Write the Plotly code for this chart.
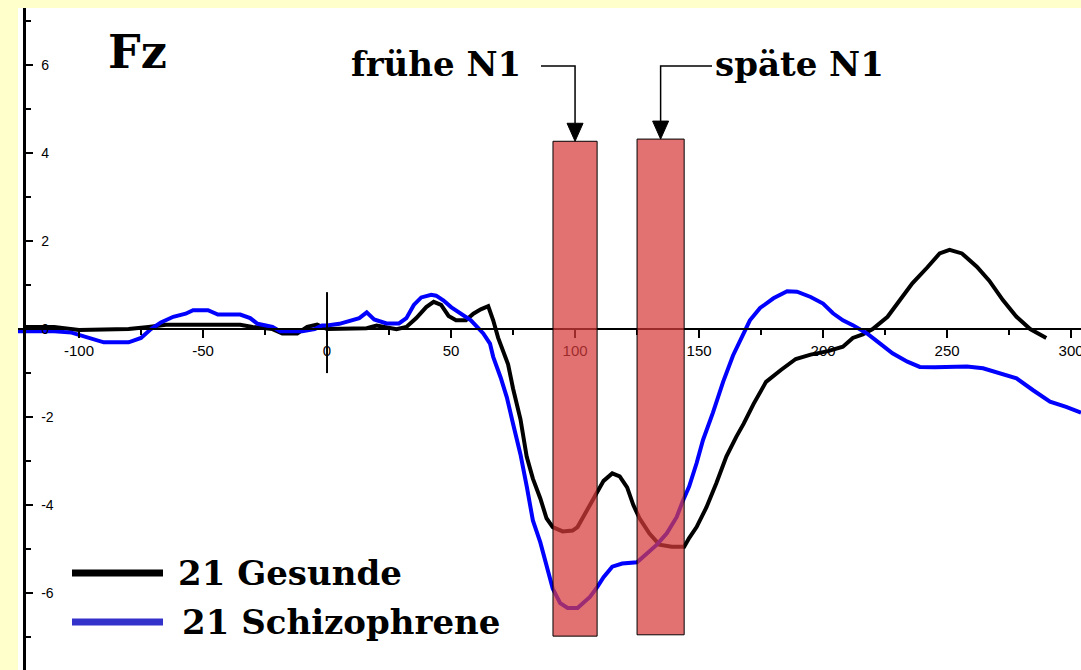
import plotly.graph_objects as go

# ---------------- data ----------------
time_gesunde = [-122, -110, -100, -90, -80, -72, -65, -55, -45, -35, -30, -22, -18, -12, -8, -4,
                0, 8, 16, 20, 24, 28, 32, 36, 40, 43, 46, 49, 52, 56, 59, 62, 65, 67, 69, 71,
                73, 75, 78, 80.5, 83, 86, 88.5, 91, 95, 99, 101, 103, 106, 109, 111.5, 115,
                118, 121, 123.5, 126, 130, 134, 139, 144, 146, 149, 153, 157, 161, 165, 168,
                172, 177, 183, 189, 195, 202, 208, 212, 216, 220, 226, 231, 236, 242, 247,
                251, 256, 262, 267, 272.5, 278, 283.5, 290]
amp_gesunde = [0.05, 0.05, -0.02, 0.0, 0.0, 0.05, 0.1, 0.1, 0.1, 0.1, 0.05, 0.0, -0.1, -0.1, 0.05, 0.1,
               0.0, 0.0, 0.02, 0.08, 0.05, 0.0, 0.05, 0.25, 0.5, 0.62, 0.55, 0.3, 0.2, 0.2, 0.35, 0.45,
               0.52, 0.2, -0.2, -0.5, -0.8, -1.35, -2.05, -2.9, -3.4, -3.85, -4.3, -4.5, -4.6, -4.58,
               -4.5, -4.3, -4.0, -3.7, -3.45, -3.28, -3.35, -3.6, -4.0, -4.3, -4.65, -4.9, -4.95,
               -4.95, -4.75, -4.5, -4.05, -3.5, -2.9, -2.45, -2.15, -1.7, -1.2, -0.93, -0.68, -0.58,
               -0.5, -0.4, -0.2, -0.12, 0.0, 0.28, 0.66, 1.04, 1.4, 1.72, 1.8, 1.72, 1.42, 1.1, 0.66,
               0.28, 0.0, -0.2]

time_schizo = [-125, -110, -103, -96, -90, -80, -75, -71, -67, -62, -57, -54, -48, -44, -35, -31,
               -28, -22, -19, -10, -5, -2, 0, 5, 10, 13, 16, 19, 24, 29, 32, 35, 38, 42, 44, 47,
               50, 54, 58, 60.5, 63, 65.7, 67, 70, 72.5, 75, 78, 80.6, 83, 86, 88.7, 91, 94, 97,
               101, 103, 106, 109, 111.5, 115, 119, 125, 127.5, 133, 137, 141, 143.5, 146, 149,
               151.6, 155.6, 159.7, 163.7, 168, 170.5, 174.6, 180, 185.5, 189.5, 195, 200, 204,
               208, 212, 217.7, 223, 228, 234, 239, 245, 252, 258, 264.5, 271, 278, 284.7, 291.5,
               298, 304]
amp_schizo = [-0.05, -0.05, -0.08, -0.2, -0.3, -0.3, -0.2, 0.0, 0.15, 0.28, 0.35, 0.43, 0.43, 0.33,
              0.33, 0.25, 0.12, 0.05, -0.05, -0.05, 0.0, 0.08, 0.08, 0.12, 0.2, 0.25, 0.38, 0.22,
              0.13, 0.13, 0.25, 0.55, 0.72, 0.78, 0.76, 0.65, 0.5, 0.36, 0.2, 0.05, -0.1, -0.33,
              -0.63, -1.1, -1.55, -2.15, -2.85, -3.6, -4.35, -4.85, -5.45, -5.9, -6.23, -6.34,
              -6.34, -6.23, -6.09, -5.86, -5.64, -5.4, -5.33, -5.3, -5.17, -4.9, -4.64, -4.27,
              -3.9, -3.58, -3.05, -2.52, -1.9, -1.2, -0.6, -0.1, 0.2, 0.48, 0.7, 0.86, 0.85, 0.73,
              0.58, 0.36, 0.2, 0.09, -0.1, -0.33, -0.55, -0.74, -0.86, -0.87, -0.85, -0.85, -0.89,
              -1.0, -1.12, -1.39, -1.65, -1.77, -1.9]

series_names = ["21 Gesunde", "21 Schizophrene"]
window_labels = ["frühe N1", "späte N1"]
window_start = [91.1, 125.0]
window_end = [108.9, 144.0]
window_top = [4.27, 4.32]
window_bottom = [-6.98, -6.95]

x_tickvals = [-100, -50, 0, 50, 100, 150, 200, 250, 300]
x_ticktext = ["-100", "-50", "0", "50", "100", "150", "200", "250", "300"]
y_tickvals = [-6, -4, -2, 0, 2, 4, 6]
y_ticktext = ["-6", "-4", "-2", "0", "2", "4", "6"]
plot_title = "Fz"

# ---------------- layout constants ----------------
W, H = 1081, 670
ML, MT = 18, 8
X0, X1 = -124.6, 304.0
Y0, Y1 = -7.75, 7.3


def pxp(px, py):
    return (px - ML) / (W - ML), (H - py) / (H - MT)


def t_of(px):
    return X0 + (px - ML) / (W - ML) * (X1 - X0)


def v_of(py):
    return Y1 - (py - MT) / (H - MT) * (Y1 - Y0)


SERIF = "DejaVu Serif"
colors = ["#000000", "#0000FF"]
legend_colors = ["#000000", "#3333CC"]

fig = go.Figure()
fig.add_trace(go.Scatter(x=time_gesunde, y=amp_gesunde, mode="lines",
                         line=dict(color=colors[0], width=4), name=series_names[0],
                         showlegend=False))
fig.add_trace(go.Scatter(x=time_schizo, y=amp_schizo, mode="lines",
                         line=dict(color=colors[1], width=4), name=series_names[1],
                         showlegend=False))

shapes = []
# stimulus onset marker
shapes.append(dict(type="line", xref="x", yref="y", x0=0, x1=0, y0=0.84, y1=-1.0,
                   line=dict(color="black", width=2)))

# N1 windows
for s, e, top, bot in zip(window_start, window_end, window_top, window_bottom):
    shapes.append(dict(type="rect", xref="x", yref="y", x0=s, x1=e, y0=bot, y1=top,
                       fillcolor="rgba(215,60,60,0.72)", line=dict(color="black", width=1),
                       layer="above"))

# elbow arrows to windows
elbow_y = v_of(66)
head_h = 18 / (H - MT) * (Y1 - Y0)
head_w = 8 / (W - ML) * (X1 - X0)
elbow_from_px = [541, 712]
for i, (s, e, top) in enumerate(zip(window_start, window_end, window_top)):
    ax = (s + e) / 2
    x_from = t_of(elbow_from_px[i])
    shapes.append(dict(type="path", xref="x", yref="y",
                       path=f"M {x_from},{elbow_y} L {ax},{elbow_y} L {ax},{top + head_h}",
                       line=dict(color="black", width=1.5)))
    shapes.append(dict(type="path", xref="x", yref="y",
                       path=f"M {ax - head_w},{top + head_h} L {ax + head_w},{top + head_h} L {ax},{top} Z",
                       fillcolor="black", line=dict(color="black", width=1)))

# legend lines
legend_y_px = [573, 622]
for c, ly in zip(legend_colors, legend_y_px):
    xa, ya = pxp(72, ly)
    xb, _ = pxp(163, ly)
    shapes.append(dict(type="line", xref="paper", yref="paper", x0=xa, x1=xb, y0=ya, y1=ya,
                       line=dict(color=c, width=7)))

annotations = []
fx, fy = pxp(106, 52)
annotations.append(dict(text=f"<b>{plot_title}</b>", x=fx, y=fy, xref="paper", yref="paper",
                        xanchor="left", yanchor="middle", showarrow=False,
                        font=dict(family=SERIF, size=46, color="black")))

label_center_px = [436, 799]
for lab, cx in zip(window_labels, label_center_px):
    annotations.append(dict(text=f"<b>{lab}</b>", x=t_of(cx), y=v_of(64), xref="x", yref="y",
                            xanchor="center", yanchor="middle", showarrow=False,
                            font=dict(family=SERIF, size=34, color="black")))

legend_text_px = [176, 180]
for name, lx, ly in zip(series_names, legend_text_px, legend_y_px):
    px_, py_ = pxp(lx, ly)
    annotations.append(dict(text=f"<b>{name}</b>", x=px_, y=py_, xref="paper", yref="paper",
                            xanchor="left", yanchor="middle", showarrow=False,
                            font=dict(family=SERIF, size=34, color="black")))

x_axis_pos = (0 - Y0) / (Y1 - Y0)
y_axis_pos = (24 - ML) / (W - ML)

fig.update_layout(
    width=W, height=H,
    margin=dict(l=ML, r=0, t=MT, b=0, pad=0, autoexpand=False),
    paper_bgcolor="#FFFFCC",
    plot_bgcolor="white",
    showlegend=False,
    shapes=shapes,
    annotations=annotations,
    xaxis=dict(range=[X0, X1], domain=[0, 1], anchor="free", position=x_axis_pos,
               automargin=False,
               showgrid=False, zeroline=False, showline=True, linecolor="black", linewidth=2,
               ticks="outside", ticklen=8, tickwidth=2, tickcolor="black",
               tickmode="array", tickvals=x_tickvals, ticktext=x_ticktext,
               ticklabeloverflow="allow",
               tickfont=dict(family="Liberation Sans Narrow, Liberation Sans", size=15, color="black"),
               minor=dict(ticks="outside", ticklen=5, tickwidth=1.5, tickcolor="black",
                          tick0=0, dtick=25, showgrid=False)),
    yaxis=dict(range=[Y0, Y1], domain=[0, 1], anchor="free", position=y_axis_pos,
               automargin=False,
               showgrid=False, zeroline=False, showline=True, linecolor="black", linewidth=3,
               ticks="inside", ticklen=7, tickwidth=2, tickcolor="black",
               tickmode="array", tickvals=y_tickvals, ticktext=y_ticktext,
               ticklabelposition="inside", ticklabelstandoff=8,
               tickfont=dict(family="Liberation Sans", size=14, color="black"),
               minor=dict(ticks="inside", ticklen=5, tickwidth=1.5, tickcolor="black",
                          tick0=0, dtick=1, showgrid=False)),
)

fig.write_html("out.html", config={"displayModeBar": False},
               post_script="document.body.style.margin='0px';")
